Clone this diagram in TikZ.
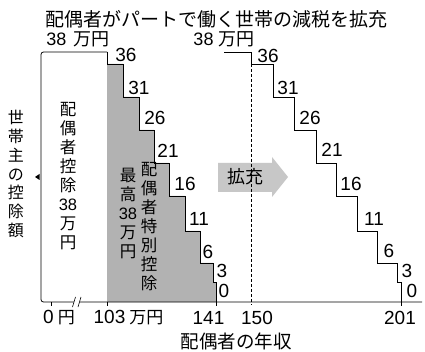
\documentclass[tikz,border=0pt]{standalone}
\usepackage{fontspec}
\setmainfont{Liberation Sans}
\newfontfamily\jp{Noto Sans CJK JP}
\begin{document}
\begin{tikzpicture}[x=1pt,y=-1pt,
  outl/.style={line width=0.8pt, line join=miter},
  num/.style={font=\fontsize{19}{19}\selectfont, inner sep=0pt},
  toplab/.style={font=\jp\fontsize{18}{18}\selectfont, inner sep=0pt},
  ticklab/.style={font=\jp\fontsize{17}{17}\selectfont, inner sep=0pt},
  vcol/.style={font=\jp\fontsize{16.5}{19}\selectfont, align=center, inner sep=0pt},
  ]
\useasboundingbox (0,0) rectangle (425,352);
\fill[white] (0,0) rectangle (425,352);

% gray area (special deduction)
\fill[black!30] (107,302) -- (107,64) -- (123,64) -- (123,97) -- (139,97) -- (139,130)
  -- (154,130) -- (154,163) -- (169,163) -- (169,196) -- (185,196) -- (185,231)
  -- (200,231) -- (200,263) -- (213,263) -- (213,282) -- (216,282) -- (216,302) -- cycle;

% expansion arrow
\fill[black!22] (218,163) -- (272,163) -- (272,157) -- (288,177) -- (272,197) -- (272,192) -- (218,192) -- cycle;

% left frame and axis
\draw[outl, rounded corners=2.5pt] (107,52) -- (41,52) -- (41,302) -- (422,302);
% axis break
\fill[white] (72.5,306) -- (75.5,298) -- (81,298) -- (78,306) -- cycle;
\draw[line width=0.6pt] (72.5,307) -- (75.5,297);
\draw[line width=0.6pt] (78,307) -- (81,297);
% y-axis marker
\fill (35,177) -- (39.5,174) -- (39.5,180) -- cycle;

% left steps
\draw[outl] (107,52) -- (107,64) -- (123,64) -- (123,97) -- (139,97) -- (139,130)
  -- (154,130) -- (154,163) -- (169,163) -- (169,196) -- (185,196) -- (185,231)
  -- (200,231) -- (200,263) -- (213,263) -- (213,282) -- (216,282) -- (216,306);
% right steps
\draw[outl] (224,52) -- (251,52) -- (251,64) -- (273,64) -- (273,97) -- (294,97) -- (294,130)
  -- (316,130) -- (316,163) -- (336,163) -- (336,196) -- (357,196) -- (357,231)
  -- (377,231) -- (377,263) -- (397,263) -- (397,282) -- (401,282) -- (401,306);
% 150 dashed line
\draw[line width=0.8pt, dash pattern=on 3pt off 2pt] (251,64) -- (251,305);
% ticks
\draw[outl] (51,302) -- (51,306);
\draw[outl] (107,302) -- (107,306);

% title
\node[font=\jp\fontsize{19}{19}\selectfont, inner sep=0pt] (title) at (216,19) {配偶者がパートで働く世帯の減税を拡充};
\node[toplab] (t38l) at (78,39) {{\rmfamily 38}\hspace{7pt}万円};
\node[toplab] (t38r) at (224,39) {{\rmfamily 38}\hspace{5pt}万円};

% left step labels
\node[num] (l36) at (126,55) {36};
\node[num] (l31) at (139,88) {31};
\node[num] (l26) at (155,118) {26};
\node[num] (l21) at (168,151) {21};
\node[num] (l16) at (185,184) {16};
\node[num] (l11) at (199,219) {11};
\node[num] (l6) at (208,252) {6};
\node[num] (l3) at (222,271) {3};
\node[num] (l0) at (224,291) {0};
% right step labels
\node[num] (r36) at (268,56) {36};
\node[num] (r31) at (288,88) {31};
\node[num] (r26) at (310,118) {26};
\node[num] (r21) at (332,150) {21};
\node[num] (r16) at (351,184) {16};
\node[num] (r11) at (374,219) {11};
\node[num] (r6) at (389,251) {6};
\node[num] (r3) at (407,271) {3};
\node[num] (r0) at (412,291) {0};

% arrow text
\node[font=\jp\fontsize{18}{18}\selectfont, inner sep=0pt] (kaku) at (245,177) {拡充};

% vertical texts
\node[vcol, font=\jp\fontsize{16}{18.7}\selectfont] (ylab) at (16,174) {世\\帯\\主\\の\\控\\除\\額};
\node[vcol] (c1) at (68,176.5) {配\\偶\\者\\控\\除\\{\rmfamily 38}\\万\\円};
\node[vcol] (c2) at (128,213.5) {最\\高\\{\rmfamily 38}\\万\\円};
\node[vcol] (c3) at (149,227) {配\\偶\\者\\特\\別\\控\\除};

% tick labels
\node[ticklab] (x0) at (59,318) {{\rmfamily\fontsize{19}{19}\selectfont 0}\hspace{4pt}円};
\node[ticklab] (x103) at (128.5,318) {{\rmfamily\fontsize{19}{19}\selectfont 103}\hspace{4pt}万円};
\node[num] (x141) at (208.5,318) {141};
\node[num] (x150) at (257,318) {150};
\node[num] (x201) at (400,318) {201};

% x-axis label
\node[font=\jp\fontsize{18.5}{18.5}\selectfont, inner sep=0pt] (xlab) at (236,341) {配偶者の年収};
\end{tikzpicture}
\end{document}
